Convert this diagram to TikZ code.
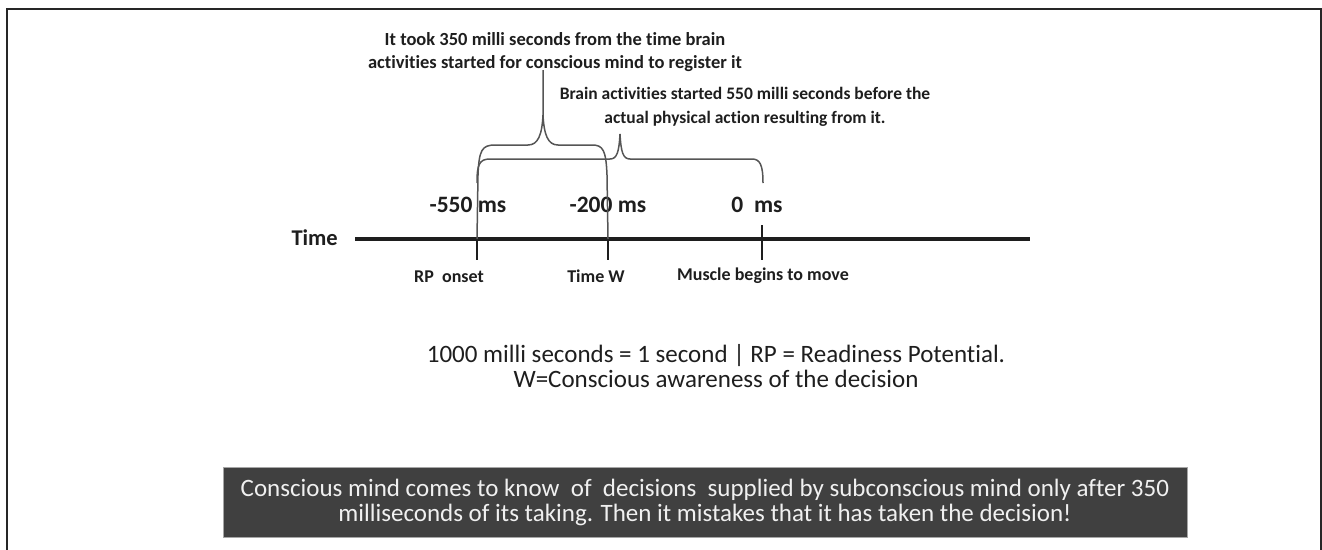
\documentclass[tikz,border=0pt]{standalone}
\usepackage{fontspec}
\setmainfont{Carlito}[Ligatures=CommonOff]
\definecolor{ink}{HTML}{1E1E1E}
\definecolor{bracegray}{HTML}{555555}
\definecolor{panel}{HTML}{404040}
\begin{document}
\begin{tikzpicture}[x=1pt,y=-1pt,
  note/.style={font=\bfseries\fontsize{18.5}{23}\selectfont, text=ink, align=center, inner sep=0pt},
  ticklabel/.style={font=\bfseries\fontsize{23.5}{26}\selectfont, text=ink, inner sep=0pt},
  eventlabel/.style={font=\bfseries\fontsize{18}{20}\selectfont, text=ink, inner sep=0pt},
  tickmark/.style={line width=1.4pt, ink},
  bracecurve/.style={line width=1.5pt, bracegray, line join=round},
  legend/.style={font=\fontsize{25}{25}\selectfont, text=ink, align=center, inner sep=0pt},
  panelbox/.style={fill=panel, draw=black!35, line width=1pt, minimum width=964pt, minimum height=70pt, inner sep=0pt,
    text=white!94!black, align=center, font=\fontsize{25}{25}\selectfont}]
\useasboundingbox (0,0) rectangle (1322,549);
\fill[white] (0,0) rectangle (1322,549);
% open frame (no bottom edge)
\draw[line width=2.5pt, black!85] (7,560) -- (7,9) -- (1321,9) -- (1321,560);

% time axis
\coordinate (axisL) at (355,239);
\coordinate (axisR) at (1030,239);
\draw[line width=4pt, ink] (axisL) -- (axisR);
\node[anchor=east, font=\bfseries\fontsize{22.5}{24}\selectfont, text=ink, inner sep=0pt] (time) at (338,238) {Time};

% event positions on the axis
\coordinate (rp) at (477,239);
\coordinate (w) at (608,239);
\coordinate (zero) at (762,239);

% ticks
\draw[tickmark] (rp) -- ++(0,21);
\draw[tickmark] (w) -- ++(0,21);
\draw[tickmark] (zero) ++(0,-14) -- ++(0,35);

% tick values
\node[ticklabel] (m550) at (468,205) {-550 ms};
\node[ticklabel] (m200) at (608,205) {-200 ms};
\node[ticklabel] (m0) at (757,205) {0\ \ ms};

% event names
\node[eventlabel] (rpname) at (449,277) {RP\ \ onset};
\node[eventlabel] (wname) at (596,276) {Time W};
\node[eventlabel] (mvname) at (763,276) {Muscle begins to move};

% brace spanning RP onset to time W (350 ms)
\coordinate (tipA) at (543,70);
\draw[bracecurve] (rp) -- (478,175) .. controls (479,150) and (482,145) .. (495,145)
  -- (528,145) .. controls (538,145) and (542,135) .. (543,115) -- (tipA);
\draw[bracecurve] (543,115) .. controls (544,135) and (548,145) .. (558,145)
  -- (592,145) .. controls (603,145) and (606,150) .. (607,175) -- (w);

% brace spanning RP onset to movement (550 ms)
\coordinate (tipB) at (620,134);
\draw[bracecurve] (477,183) .. controls (477,165) and (479,159) .. (490,159)
  -- (610,159) .. controls (617,159) and (619,152) .. (tipB);
\draw[bracecurve] (tipB) .. controls (621,152) and (623,159) .. (630,159)
  -- (752,159) .. controls (760,159) and (763,165) .. (763,183);

% annotations
\node[note, anchor=south] (noteA) at (555,72) {It took 350 milli seconds from the time brain\\activities started for conscious mind to register it};
\node[note, anchor=south, font=\bfseries\fontsize{17.5}{24}\selectfont] (noteB) at (745,127) {Brain activities started 550 milli seconds before the\\actual physical action resulting from it.};

% legend
\node[legend] (legendtext) at (716,366) {1000 milli seconds = 1 second | RP = Readiness Potential.\\W=Conscious awareness of the decision};

% conclusion panel
\node[panelbox] (panel) at (705,502) {Conscious mind comes to know\ \ of\ \ decisions\ \ supplied by subconscious mind only after 350\\milliseconds of its taking. Then it mistakes that it has taken the decision!};
\end{tikzpicture}
\end{document}
